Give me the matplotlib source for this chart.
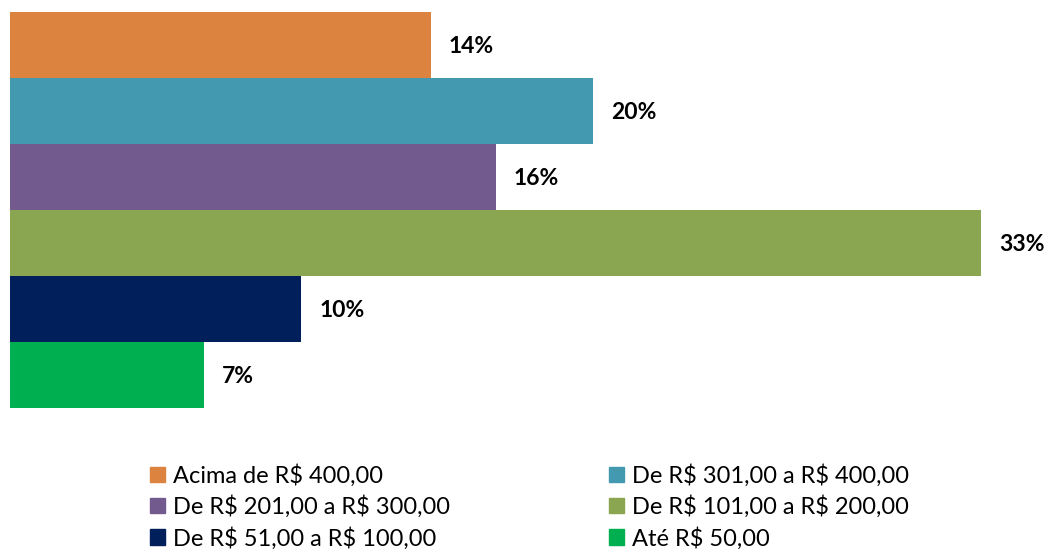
import matplotlib.pyplot as plt
import matplotlib.patches as mpatches

# faixas de gasto e percentuais (de cima para baixo)
categories = ["Acima de R$ 400,00", "De R$ 301,00 a R$ 400,00", "De R$ 201,00 a R$ 300,00",
              "De R$ 101,00 a R$ 200,00", "De R$ 51,00 a R$ 100,00", "Até R$ 50,00"]
values = [14.3, 19.8, 16.5, 33.0, 9.9, 6.6]
colors = ["#DC843F", "#4399B0", "#735A8E", "#8AA650", "#001F5B", "#00B050"]

plt.rcParams['font.family'] = ['Lato', 'DejaVu Sans']
plt.rcParams['text.parse_math'] = False

fig = plt.figure(figsize=(10.5, 5.49), dpi=100)
ax = fig.add_axes([10 / 1050, (549 - 408) / 549, 1030 / 1050, 396 / 549])

pos = list(range(len(values)))
bars = ax.barh(pos, values, height=1.0, color=colors)
ax.set_ylim(len(values) - 0.5, -0.5)
ax.set_xlim(0, 35)

for p, v in zip(pos, values):
    ax.annotate(f"{round(v):.0f}%", (v, p), xytext=(13, -1), textcoords="offset points",
                ha="left", va="center", fontsize=16.5, fontweight="bold", color="black")

for s in ax.spines.values():
    s.set_visible(False)
ax.set_xticks([])
ax.set_yticks([])

# legenda em duas colunas, preenchida por linha
order = [0, 2, 4, 1, 3, 5]
handles = [mpatches.Patch(color=colors[i]) for i in order]
labels = [categories[i] for i in order]
fig.legend(handles, labels, ncol=2, loc="upper left", bbox_to_anchor=(150 / 1050, (549 - 464) / 549),
           frameon=False, fontsize=17, handlelength=0.62, handleheight=0.62,
           handletextpad=0.35, columnspacing=6.75, labelspacing=0.37,
           borderpad=0, borderaxespad=0)

fig.savefig("out.png", dpi=100)
